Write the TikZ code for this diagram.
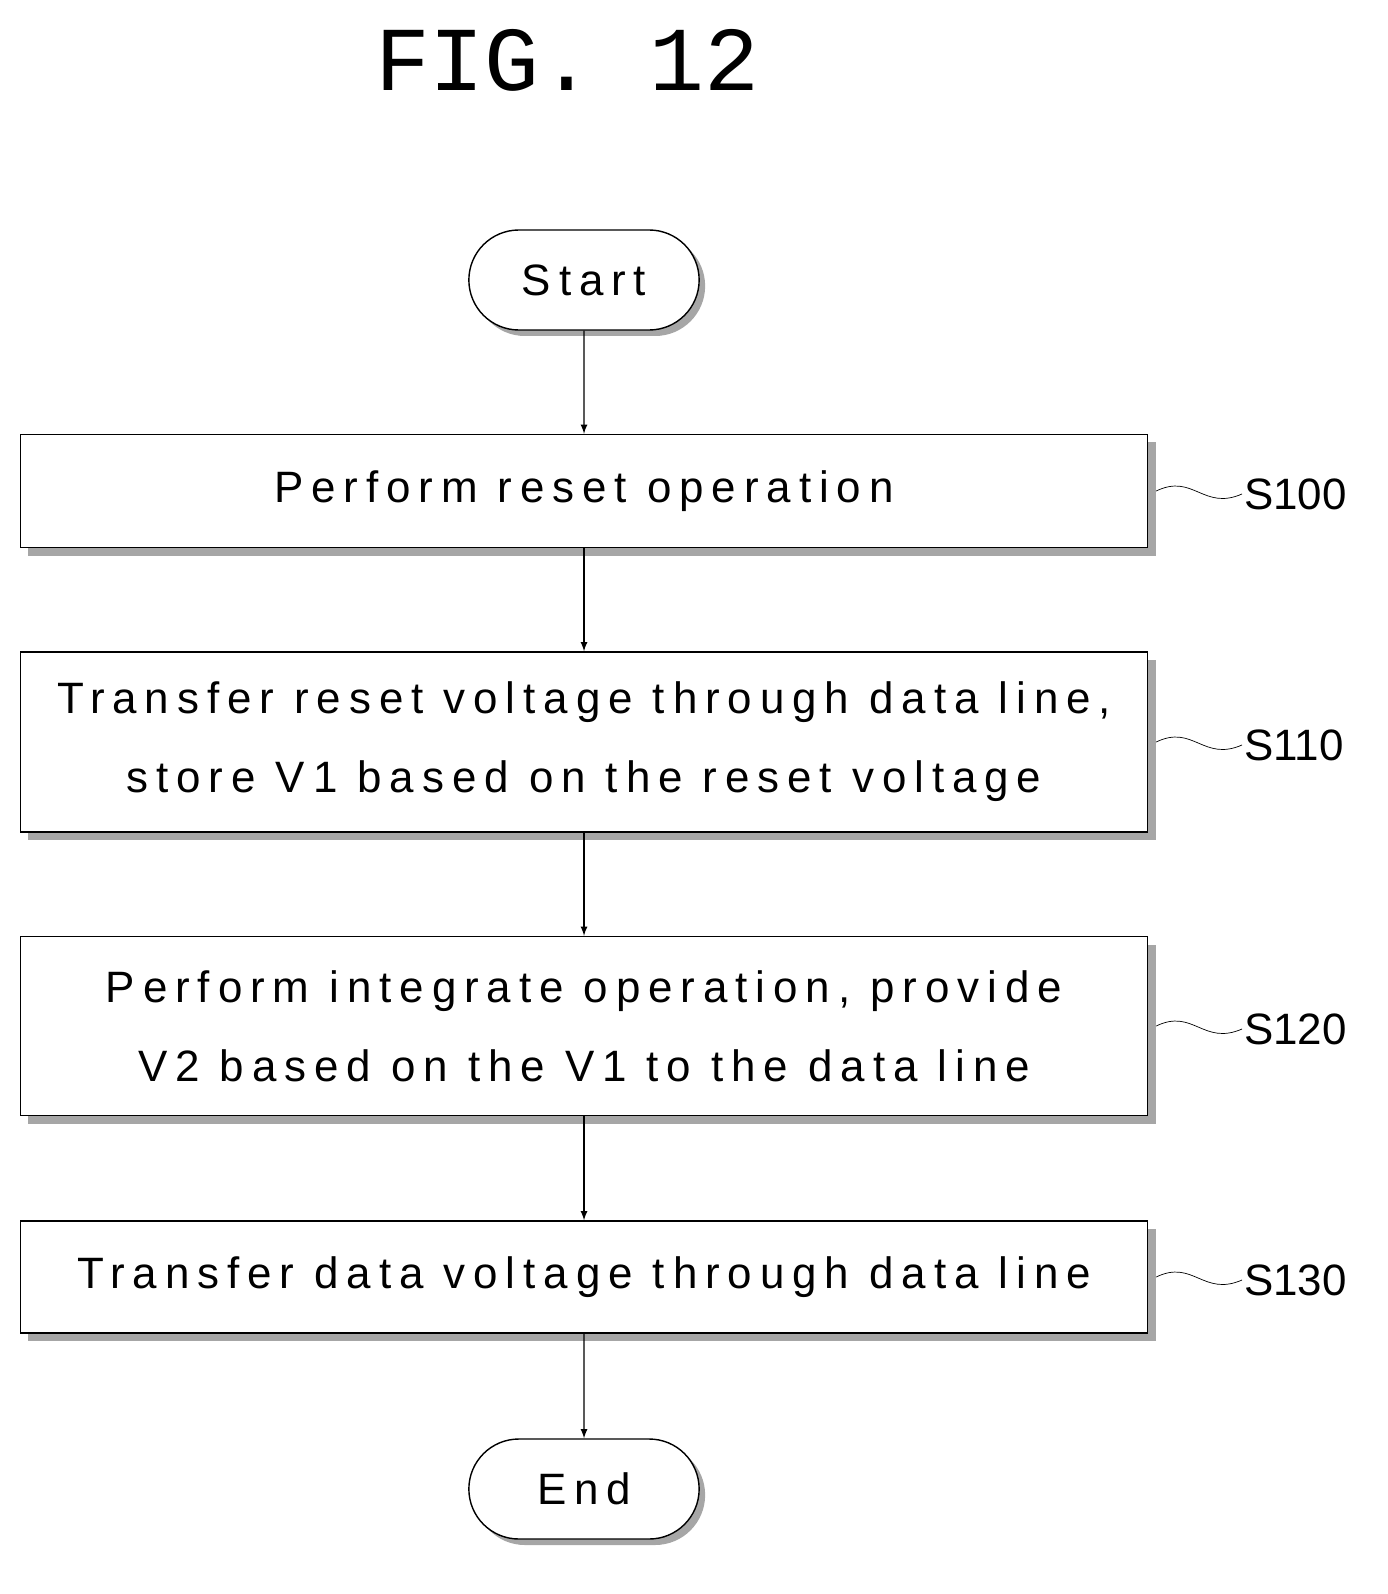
\documentclass[tikz,border=0pt]{standalone}
\usepackage{fontspec}
\setmainfont{Liberation Sans}
\newfontfamily\figfont{Liberation Mono}
\usetikzlibrary{shapes,shadows,calc}

\tikzset{
  box/.style={rectangle,draw,thick,fill=white,minimum width=1127*0.02cm,
    align=center,drop shadow={shadow xshift=0.16cm,shadow yshift=-0.16cm,opacity=1,fill=gray!70}},
  term/.style={rounded rectangle,draw,thick,fill=white,minimum width=242*0.02cm,
    minimum height=100*0.02cm,drop shadow={shadow xshift=0.12cm,shadow yshift=-0.12cm,opacity=1,fill=gray!70}},
  steplabel/.style={font=\fontsize{25}{30}\selectfont},
  txt/.style={font=\fontsize{25}{45}\selectfont\addfontfeature{LetterSpace=18}},
  flow/.style={->,thick,>=latex},
}

\begin{document}
\begin{tikzpicture}[x=0.02cm,y=-0.02cm]
  \useasboundingbox (0,0) rectangle (1387,1594);

  \node[font=\fontsize{52}{52}\selectfont\figfont] (title) at (567,60) {FIG. 12};

  \node[term,txt] (start) at (584,280) {Start};
  \node[box,txt,minimum height=113*0.02cm] (s100) at (584,491) {Perform reset operation};
  \node[box,txt,minimum height=180*0.02cm] (s110) at (584,742) {Transfer reset voltage through data line,\\store V1 based on the reset voltage};
  \node[box,txt,minimum height=179*0.02cm] (s120) at (584,1026) {Perform integrate operation, provide\\V2 based on the V1 to the data line};
  \node[box,txt,minimum height=112*0.02cm] (s130) at (584,1277) {Transfer data voltage through data line};
  \node[term,txt] (end) at (584,1489) {End};

  \draw[flow] (start) -- (s100);
  \draw[flow] (s100) -- (s110);
  \draw[flow] (s110) -- (s120);
  \draw[flow] (s120) -- (s130);
  \draw[flow] (s130) -- (end);

  % step labels
  \foreach \s/\y/\t in {s100/494/S100, s110/745/S110, s120/1029/S120, s130/1280/S130} {
    \node[steplabel,anchor=west,inner sep=1pt] (l\s) at (1242,\y) {\t};
    \draw ($(\s.east)+(8,0)$) .. controls ($(\s.east)+(45,-18)$) and ($(\s.east)+(55,20)$) .. (l\s.west);
  }
\end{tikzpicture}
\end{document}
